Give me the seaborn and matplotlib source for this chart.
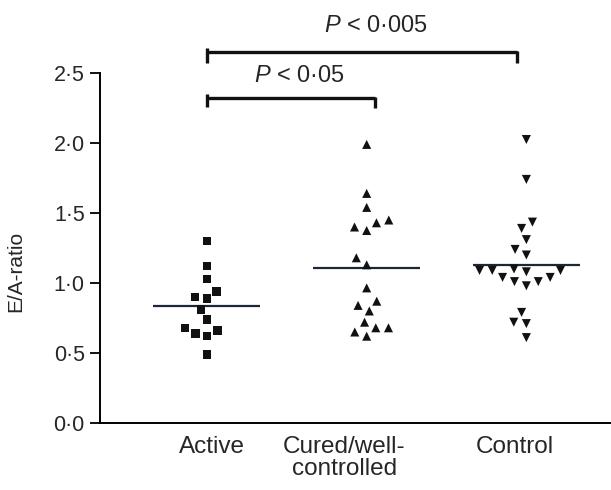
import numpy as np
import pandas as pd
import matplotlib
matplotlib.use("Agg")
import matplotlib.pyplot as plt
import seaborn as sns

categories = ["Active", "Cured/well-\ncontrolled", "Control"]
active = [1.30, 1.12, 1.03, 0.94, 0.90, 0.89, 0.81, 0.74, 0.68, 0.66, 0.64, 0.62, 0.49]
cured = [1.99, 1.64, 1.54, 1.45, 1.43, 1.40, 1.375, 1.18, 1.13, 0.965, 0.87, 0.84,
         0.80, 0.72, 0.68, 0.68, 0.65, 0.62]
control = [2.025, 1.74, 1.435, 1.39, 1.31, 1.24, 1.20, 1.10, 1.09, 1.08, 1.09, 1.09,
           1.04, 1.01, 0.98, 1.01, 1.04, 0.79, 0.72, 0.71, 0.61]
yticks = [0.0, 0.5, 1.0, 1.5, 2.0, 2.5]
p_labels = ["< 0·005", "< 0·05"]

sns.set_theme(style="white")
plt.rcParams["font.family"] = ["Liberation Sans", "DejaVu Sans"]
plt.rcParams["mathtext.fontset"] = "custom"
plt.rcParams["mathtext.it"] = "Liberation Sans:italic"
plt.rcParams["mathtext.rm"] = "Liberation Sans"

df = pd.DataFrame({
    "group": [categories[0]] * len(active) + [categories[1]] * len(cured) + [categories[2]] * len(control),
    "value": active + cured + control,
})

fig = plt.figure(figsize=(6.11, 4.90), dpi=100)
ax = fig.add_axes([100 / 611, 67 / 490, 511 / 611, 350 / 490])

markers = ["s", "^", "v"]
sizes = [6, 6.5, 6.5]
for cat, mk, sz in zip(categories, markers, sizes):
    sns.swarmplot(data=df[df["group"] == cat], x="group", y="value", order=categories,
                  marker=mk, color="#111111", size=sz, linewidth=2.2, edgecolor="none", ax=ax)

means = df.groupby("group", sort=False)["value"].mean()
for i, cat in enumerate(categories):
    ax.hlines(means[cat], i - 0.335, i + 0.335, color="#1c2636", lw=1.6, zorder=1)

ax.set_xlim(-0.67, 2.53)
ax.set_ylim(0, 2.5)
ax.set_yticks(yticks)
ax.set_yticklabels([f"{v:.1f}".replace(".", "·") for v in yticks], fontsize=15.5)
ax.set_xticks([0.03, 0.86, 1.93])
ax.set_xticklabels(categories, fontsize=17.5, linespacing=1.0)
ax.tick_params(axis="y", direction="out", length=7, width=1.3, pad=4, left=True, color="black")
ax.tick_params(axis="x", length=0, pad=9)
ax.set_xlabel("")
ax.set_ylabel("E/A-ratio", fontsize=15)
ax.yaxis.set_label_coords(-0.147, 0.434)

for s in ["top", "right"]:
    ax.spines[s].set_visible(False)
for s in ["left", "bottom"]:
    ax.spines[s].set_color("black")
    ax.spines[s].set_linewidth(1.4)

# significance brackets
kw = dict(color="#111111", lw=2.4, clip_on=False, solid_capstyle="butt")
ax.plot([0, 1.94], [2.65, 2.65], **kw)
ax.plot([0, 0], [2.57, 2.68], **kw)
ax.plot([1.94, 1.94], [2.57, 2.66], **kw)
ax.text(1.06, 2.79, r"$\mathit{P}$ " + p_labels[0], ha="center", va="baseline", fontsize=17)

ax.plot([0, 1.05], [2.32, 2.32], **kw)
ax.plot([0, 0], [2.26, 2.35], **kw)
ax.plot([1.05, 1.05], [2.25, 2.33], **kw)
ax.text(0.58, 2.435, r"$\mathit{P}$ " + p_labels[1], ha="center", va="baseline", fontsize=17)

fig.savefig("out.png", dpi=100, facecolor="white")
